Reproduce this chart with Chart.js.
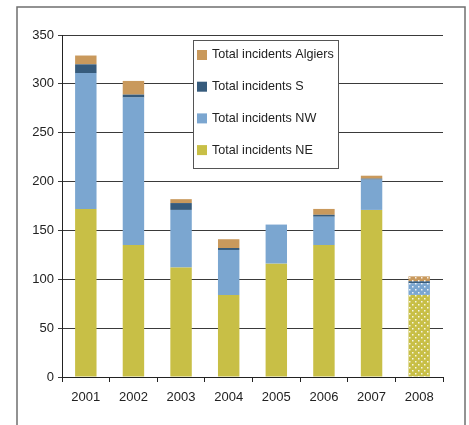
<!DOCTYPE html>
<html>
<head>
<meta charset="utf-8">
<script src="https://cdn.jsdelivr.net/npm/chart.js@4/dist/chart.umd.min.js"></script>
<style>
  html, body { margin: 0; padding: 0; background: #fff; }
  #wrap { width: 469px; height: 425px; }
</style>
</head>
<body>
<div id="wrap"><canvas id="chart" width="469" height="425"></canvas></div>
<script>
'use strict';

const years = ['2001', '2002', '2003', '2004', '2005', '2006', '2007', '2008'];
const incidentsNE = [172, 135, 112, 84, 116, 135, 171, 84];
const incidentsNW = [139, 151, 59, 46, 40, 29, 31, 12];
const incidentsS = [9, 3, 7, 2, 0, 2, 1, 2];
const incidentsAlgiers = [9, 14, 4, 9, 0, 6, 3, 5];

const colorNE = '#c8bf46';
const colorNW = '#7ba6d0';
const colorS = '#365b7c';
const colorAlgiers = '#c9995c';

// 2008 is partial data, drawn with a dotted fill.
function dotted(color) {
    const c = document.createElement('canvas');
    c.width = 6;
    c.height = 6;
    const g = c.getContext('2d');
    g.fillStyle = color;
    g.fillRect(0, 0, 6, 6);
    g.fillStyle = 'rgba(255,255,255,0.85)';
    g.fillRect(1, 1, 1.5, 1.5);
    g.fillRect(4, 4, 1.5, 1.5);
    return g.createPattern(c, 'repeat');
}

function fills(color) {
    return years.map((y, i) => i === years.length - 1 ? dotted(color) : color);
}

const font = { family: '"Liberation Sans", Arial, sans-serif', size: 13 };

const framePlugin = {
    id: 'frame',
    beforeDraw(chart) {
        const ctx = chart.ctx;
        ctx.save();
        ctx.strokeStyle = '#6f6f6f';
        ctx.lineWidth = 1.5;
        ctx.strokeRect(17, 7, 448, 430);
        ctx.restore();
    }
};

const boxLegend = {
    id: 'boxLegend',
    afterDraw(chart) {
        const ctx = chart.ctx;
        const x = 193, y = 40, w = 145, h = 128;
        ctx.save();
        ctx.fillStyle = '#fff';
        ctx.fillRect(x, y, w, h);
        ctx.strokeStyle = '#555';
        ctx.lineWidth = 1;
        ctx.strokeRect(x + 0.5, y + 0.5, w, h);
        ctx.font = '12.6px "Liberation Sans", Arial, sans-serif';
        ctx.textBaseline = 'middle';
        const sets = chart.data.datasets.slice().reverse();
        sets.forEach((ds, i) => {
            const cy = 55 + i * 31.7;
            ctx.fillStyle = ds.legendColor;
            ctx.fillRect(x + 4, cy - 5, 10, 10);
            ctx.fillStyle = '#222';
            ctx.fillText(ds.label, x + 19, cy);
        });
        ctx.restore();
    }
};

new Chart(document.getElementById('chart'), {
    type: 'bar',
    data: {
        labels: years,
        datasets: [
            { label: 'Total incidents NE', data: incidentsNE, backgroundColor: fills(colorNE), legendColor: colorNE },
            { label: 'Total incidents NW', data: incidentsNW, backgroundColor: fills(colorNW), legendColor: colorNW },
            { label: 'Total incidents S', data: incidentsS, backgroundColor: fills(colorS), legendColor: colorS },
            { label: 'Total incidents Algiers', data: incidentsAlgiers, backgroundColor: fills(colorAlgiers), legendColor: colorAlgiers }
        ]
    },
    options: {
        responsive: false,
        animation: false,
        layout: { padding: { top: 35, right: 26, bottom: 0, left: 0 } },
        datasets: {
            bar: { categoryPercentage: 1, barPercentage: 0.45, borderWidth: 0 }
        },
        scales: {
            x: {
                stacked: true,
                border: { color: '#222', width: 1 },
                grid: { drawOnChartArea: false, color: '#222', tickLength: 5, offset: true },
                ticks: { color: '#222', font: font, padding: 8 },
                afterFit(scale) { scale.height = 48; }
            },
            y: {
                stacked: true,
                min: 0,
                max: 350,
                border: { color: '#222', width: 1 },
                grid: { color: '#3a3a3a', tickLength: 4 },
                ticks: { stepSize: 50, color: '#222', font: font, padding: 4 },
                afterFit(scale) { scale.width = 62; }
            }
        },
        plugins: {
            legend: { display: false },
            tooltip: { enabled: false }
        }
    },
    plugins: [framePlugin, boxLegend]
});
</script>
</body>
</html>
